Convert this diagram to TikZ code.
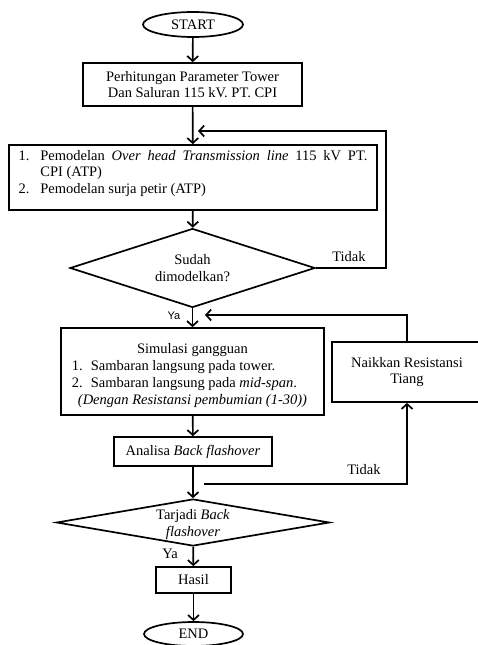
\documentclass[tikz,border=0pt]{standalone}
\usepackage{fontspec}
\setmainfont{Liberation Serif}
\newfontfamily\arialfont{Liberation Sans}
\usetikzlibrary{shapes.geometric,arrows.meta}

\begin{document}
\begin{tikzpicture}[x=1pt,y=1pt,
 font=\fontsize{14.5}{16.7}\selectfont,
 proc/.style={draw,rectangle,line width=1.7pt,inner sep=0pt,align=center},
 term/.style={draw,ellipse,line width=1.7pt,inner sep=0pt},
 decision/.style={draw,diamond,line width=1.7pt,inner sep=0pt,aspect=5,align=center},
 flow/.style={line width=1.7pt,-{Straight Barb[length=5pt,width=11pt]}}]
 \useasboundingbox (0,0) rectangle (477,-645);
 \node[term,minimum width=100,minimum height=25] (start) at (193,-24.5) {START};
 \node[proc,minimum width=219,minimum height=43] (calc) at (192.5,-84.5) {Perhitungan Parameter Tower\\Dan Saluran 115 kV. PT. CPI};
 \node[proc,minimum width=368,minimum height=65] (model) at (193,-177.5) {\begin{tabular}{@{}l@{\hspace{11pt}}l@{}}
 1. & \makebox[327pt][s]{Pemodelan \textit{Over head Transmission line} 115 kV PT.}\\
    & CPI (ATP)\\
 2. & Pemodelan surja petir (ATP)\rule[-13pt]{0pt}{0pt}
 \end{tabular}};
 \node[decision,minimum width=245,minimum height=79] (done) at (192.5,-268) {Sudah\\dimodelkan?};
 \node[proc,minimum width=263,minimum height=87] (sim) at (192.5,-371.5) {\begin{tabular}{@{}l@{\hspace{8pt}}l@{}}
 \multicolumn{2}{c}{Simulasi gangguan\rule{0pt}{20pt}}\\
 1. & Sambaran langsung pada tower.\\
 2. & Sambaran langsung pada \textit{mid-span}.\\
 \multicolumn{2}{c}{\textit{(Dengan Resistansi pembumian (1-30))}}
 \end{tabular}};
 \node[proc,minimum width=150,minimum height=60] (naik) at (407,-372) {Naikkan Resistansi\\Tiang};
 \node[proc,minimum width=158,minimum height=29] (analisa) at (193,-451.5) {Analisa \textit{Back flashover}};
 \node[decision,minimum width=273,minimum height=47,aspect=5.8] (flash) at (193,-522.5) {\rule{0pt}{14pt}Tarjadi \textit{Back}\\\textit{flashover}};
 \node[proc,minimum width=75,minimum height=26] (hasil) at (193.5,-580) {Hasil};
 \node[term,minimum width=99,minimum height=24] (finish) at (193.5,-634) {END};
 \coordinate (back1) at (198,-131);
 \coordinate (back2) at (205,-315);
 \coordinate (tidak2) at (204,-484);
 \draw[flow] (start) -- (calc);
 \draw[flow] (calc) -- (model);
 \draw[flow] (model) -- (done);
 \draw[flow] (done.east) -- ++(70,0) |- (back1);
 \node at (349,-257) {Tidak};
 \draw[flow] (done) -- (sim);
 \node[font=\arialfont\fontsize{11}{13}\selectfont] at (174,-316) {Ya};
 \draw[flow] (naik.north) |- (back2);
 \draw[flow] (sim) -- (analisa);
 \draw[flow] (analisa) -- (flash);
 \draw[flow] (tidak2) -| (naik.south);
 \node at (364,-470) {Tidak};
 \draw[flow] (flash) -- (hasil);
 \node at (170,-554) {Ya};
 \draw[flow] (hasil) -- (finish);
\end{tikzpicture}
\end{document}
